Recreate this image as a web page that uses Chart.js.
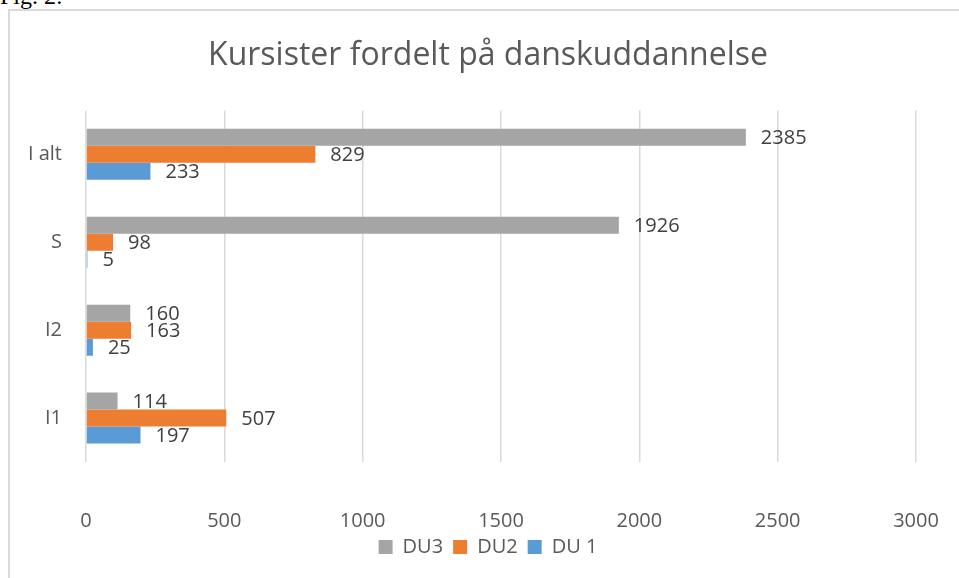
<!DOCTYPE html>
<html>
<head>
<meta charset="utf-8">
<script src="https://cdn.jsdelivr.net/npm/chart.js@4"></script>
<style>
  body { margin: 0; background: #fff; overflow: hidden; }
  #frame { position: absolute; left: 8px; top: 9px; width: 1000px; height: 700px; border: 2px solid #d9d9d9; }
  #fig { position: absolute; left: 0; top: -16px; font-family: "Liberation Serif", serif; font-size: 24px; line-height: 24px; color: #000; }
  #wrap { position: absolute; left: 0; top: 0; width: 959px; height: 578px; }
</style>
</head>
<body>
<div id="fig">Fig. 2:</div>
<div id="frame"></div>
<div id="wrap"><canvas id="kursister-chart" width="959" height="578"></canvas></div>
<script>
// data
const categories = ["I alt", "S", "I2", "I1"];
const seriesNames = ["DU3", "DU2", "DU 1"];
const du3 = [2385, 1926, 160, 114];
const du2 = [829, 98, 163, 507];
const du1 = [233, 5, 25, 197];
const xTicks = [0, 500, 1000, 1500, 2000, 2500, 3000];

const colors = ["#a5a5a5", "#ed7d31", "#5b9bd5"];
const font = "'Open Sans', sans-serif";

// draw the value next to the end of each bar
const valueLabels = {
    id: "valueLabels",
    afterDatasetsDraw(chart) {
        const ctx = chart.ctx;
        ctx.save();
        ctx.font = "20px " + font;
        ctx.fillStyle = "#404040";
        ctx.textAlign = "left";
        ctx.textBaseline = "middle";
        chart.data.datasets.forEach(function(ds, i) {
            chart.getDatasetMeta(i).data.forEach(function(bar, j) {
                ctx.fillText(ds.data[j], bar.x + 15, bar.y + 1);
            });
        });
        ctx.restore();
    }
};

new Chart("kursister-chart", {
    type: "bar",
    data: {
        labels: categories,
        datasets: [
            { label: seriesNames[0], data: du3, backgroundColor: colors[0] },
            { label: seriesNames[1], data: du2, backgroundColor: colors[1] },
            { label: seriesNames[2], data: du1, backgroundColor: colors[2] }
        ]
    },
    options: {
        indexAxis: "y",
        responsive: false,
        animation: false,
        events: [],
        categoryPercentage: 0.58,
        barPercentage: 1,
        layout: { padding: { left: 24, right: 7, top: 0, bottom: 11 } },
        plugins: {
            title: {
                display: true,
                text: "Kursister fordelt på danskuddannelse",
                color: "#595959",
                font: { family: font, size: 32, weight: "normal" },
                padding: { top: 37, bottom: 35 }
            },
            legend: {
                display: true,
                position: "bottom",
                labels: {
                    color: "#595959",
                    font: { family: font, size: 20 },
                    boxWidth: 14,
                    boxHeight: 14,
                    padding: 10
                }
            },
            tooltip: { enabled: false }
        },
        scales: {
            x: {
                min: 0,
                max: 3000,
                afterBuildTicks: function(scale) {
                    scale.ticks = xTicks.map(function(v) { return { value: v }; });
                },
                afterFit: function(scale) {
                    scale.height = 65;
                    scale.paddingLeft = 0;
                    scale.paddingRight = 43;
                },
                grid: { color: "#d9d9d9", lineWidth: 1.5, drawTicks: false },
                border: { display: false },
                ticks: {
                    color: "#595959",
                    font: { family: font, size: 20 },
                    padding: 47,
                    callback: function(value) { return String(value); }
                }
            },
            y: {
                afterFit: function(scale) { scale.width = 62; },
                grid: { display: false, drawTicks: false },
                border: { display: false },
                ticks: { color: "#595959", font: { family: font, size: 20 }, padding: 24 }
            }
        }
    },
    plugins: [valueLabels]
});
</script>
</body>
</html>
